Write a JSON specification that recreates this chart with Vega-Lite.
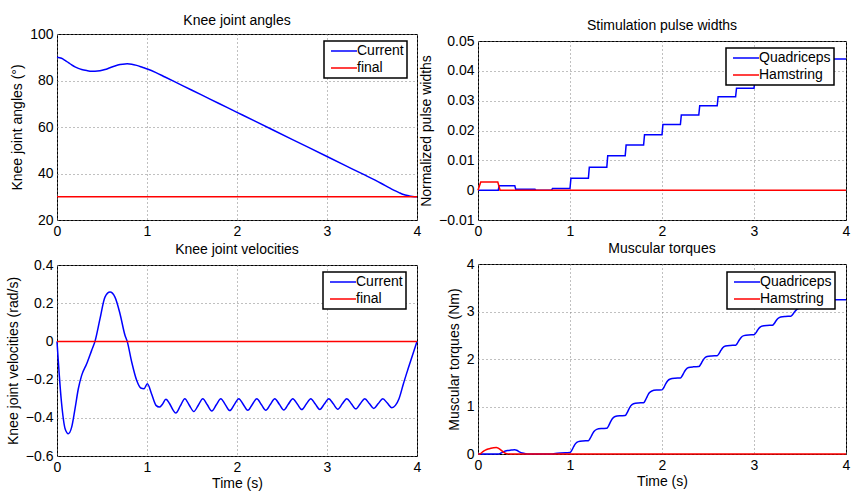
{
  "$schema": "https://vega.github.io/schema/vega-lite/v6.json",
  "background": "white",
  "padding": {"left": 5, "top": 13, "right": 0, "bottom": 0},
  "datasets": {
    "angles": [
      {"t": 0, "v": 90.0, "s": "Current"}, {"t": 0.05, "v": 89.55, "s": "Current"}, {"t": 0.09, "v": 88.65, "s": "Current"},
      {"t": 0.126, "v": 87.7, "s": "Current"}, {"t": 0.163, "v": 86.7, "s": "Current"}, {"t": 0.2, "v": 85.85, "s": "Current"},
      {"t": 0.237, "v": 85.2, "s": "Current"}, {"t": 0.274, "v": 84.75, "s": "Current"}, {"t": 0.33, "v": 84.3, "s": "Current"},
      {"t": 0.385, "v": 84.0, "s": "Current"}, {"t": 0.422, "v": 83.97, "s": "Current"}, {"t": 0.478, "v": 84.15, "s": "Current"},
      {"t": 0.533, "v": 84.7, "s": "Current"}, {"t": 0.589, "v": 85.5, "s": "Current"}, {"t": 0.644, "v": 86.25, "s": "Current"},
      {"t": 0.7, "v": 86.85, "s": "Current"}, {"t": 0.756, "v": 87.15, "s": "Current"}, {"t": 0.78, "v": 87.17, "s": "Current"},
      {"t": 0.83, "v": 87.0, "s": "Current"}, {"t": 0.885, "v": 86.5, "s": "Current"}, {"t": 0.93, "v": 85.95, "s": "Current"},
      {"t": 0.967, "v": 85.45, "s": "Current"}, {"t": 1.004, "v": 84.95, "s": "Current"}, {"t": 1.1, "v": 83.4, "s": "Current"},
      {"t": 1.2, "v": 81.5, "s": "Current"}, {"t": 1.3, "v": 79.6, "s": "Current"}, {"t": 1.4, "v": 77.7, "s": "Current"},
      {"t": 1.5, "v": 75.8, "s": "Current"}, {"t": 1.6, "v": 73.9, "s": "Current"}, {"t": 1.7, "v": 72.0, "s": "Current"},
      {"t": 1.8, "v": 70.1, "s": "Current"}, {"t": 1.9, "v": 68.2, "s": "Current"}, {"t": 2.0, "v": 66.3, "s": "Current"},
      {"t": 2.2, "v": 62.5, "s": "Current"}, {"t": 2.4, "v": 58.7, "s": "Current"}, {"t": 2.6, "v": 54.9, "s": "Current"},
      {"t": 2.8, "v": 51.1, "s": "Current"}, {"t": 3.0, "v": 47.3, "s": "Current"}, {"t": 3.2, "v": 43.5, "s": "Current"},
      {"t": 3.4, "v": 39.7, "s": "Current"}, {"t": 3.6, "v": 35.8, "s": "Current"}, {"t": 3.7, "v": 33.7, "s": "Current"},
      {"t": 3.76, "v": 32.5, "s": "Current"}, {"t": 3.8, "v": 31.8, "s": "Current"}, {"t": 3.85, "v": 31.0, "s": "Current"},
      {"t": 3.9, "v": 30.5, "s": "Current"}, {"t": 3.95, "v": 30.12, "s": "Current"}, {"t": 4.0, "v": 30.0, "s": "Current"},
      {"t": 0, "v": 30, "s": "final"}, {"t": 4, "v": 30, "s": "final"}
    ],
    "velocities": [
      {"t": 0, "v": 0, "s": "Current"}, {"t": 0.05, "v": -0.32, "s": "Current"}, {"t": 0.09, "v": -0.457, "s": "Current"},
      {"t": 0.126, "v": -0.483, "s": "Current"}, {"t": 0.163, "v": -0.449, "s": "Current"}, {"t": 0.2, "v": -0.353, "s": "Current"},
      {"t": 0.237, "v": -0.248, "s": "Current"}, {"t": 0.274, "v": -0.178, "s": "Current"}, {"t": 0.33, "v": -0.117, "s": "Current"},
      {"t": 0.385, "v": -0.047, "s": "Current"}, {"t": 0.422, "v": 0, "s": "Current"}, {"t": 0.478, "v": 0.119, "s": "Current"},
      {"t": 0.533, "v": 0.232, "s": "Current"}, {"t": 0.589, "v": 0.258, "s": "Current"}, {"t": 0.644, "v": 0.232, "s": "Current"},
      {"t": 0.7, "v": 0.145, "s": "Current"}, {"t": 0.756, "v": 0.031, "s": "Current"}, {"t": 0.78, "v": 0, "s": "Current"},
      {"t": 0.83, "v": -0.108, "s": "Current"}, {"t": 0.885, "v": -0.204, "s": "Current"}, {"t": 0.93, "v": -0.244, "s": "Current"},
      {"t": 0.967, "v": -0.248, "s": "Current"}, {"t": 1.004, "v": -0.222, "s": "Current"}, {"t": 1.05, "v": -0.274, "s": "Current"},
      {"t": 1.1, "v": -0.335, "s": "Current"}, {"t": 1.137, "v": -0.344, "s": "Current"}, {"t": 1.17, "v": -0.33, "s": "Current"},
      {"t": 1.21, "v": -0.303, "s": "Current"}, {"t": 1.25, "v": -0.325, "s": "Current"}, {"t": 1.29, "v": -0.36, "s": "Current"},
      {"t": 1.32, "v": -0.375, "s": "Current"}, {"t": 1.37, "v": -0.338, "s": "Current"}, {"t": 1.42, "v": -0.300, "s": "Current"},
      {"t": 1.47, "v": -0.334, "s": "Current"}, {"t": 1.52, "v": -0.367, "s": "Current"}, {"t": 1.57, "v": -0.334, "s": "Current"},
      {"t": 1.62, "v": -0.300, "s": "Current"}, {"t": 1.67, "v": -0.332, "s": "Current"}, {"t": 1.72, "v": -0.364, "s": "Current"},
      {"t": 1.77, "v": -0.332, "s": "Current"}, {"t": 1.82, "v": -0.300, "s": "Current"}, {"t": 1.87, "v": -0.331, "s": "Current"},
      {"t": 1.92, "v": -0.362, "s": "Current"}, {"t": 1.97, "v": -0.331, "s": "Current"}, {"t": 2.02, "v": -0.300, "s": "Current"},
      {"t": 2.07, "v": -0.330, "s": "Current"}, {"t": 2.12, "v": -0.361, "s": "Current"}, {"t": 2.17, "v": -0.330, "s": "Current"},
      {"t": 2.22, "v": -0.300, "s": "Current"}, {"t": 2.27, "v": -0.330, "s": "Current"}, {"t": 2.32, "v": -0.360, "s": "Current"},
      {"t": 2.37, "v": -0.330, "s": "Current"}, {"t": 2.42, "v": -0.300, "s": "Current"}, {"t": 2.47, "v": -0.329, "s": "Current"},
      {"t": 2.52, "v": -0.359, "s": "Current"}, {"t": 2.57, "v": -0.329, "s": "Current"}, {"t": 2.62, "v": -0.300, "s": "Current"},
      {"t": 2.67, "v": -0.328, "s": "Current"}, {"t": 2.72, "v": -0.357, "s": "Current"}, {"t": 2.77, "v": -0.328, "s": "Current"},
      {"t": 2.82, "v": -0.300, "s": "Current"}, {"t": 2.87, "v": -0.328, "s": "Current"}, {"t": 2.92, "v": -0.356, "s": "Current"},
      {"t": 2.97, "v": -0.328, "s": "Current"}, {"t": 3.02, "v": -0.300, "s": "Current"}, {"t": 3.07, "v": -0.327, "s": "Current"},
      {"t": 3.12, "v": -0.355, "s": "Current"}, {"t": 3.17, "v": -0.327, "s": "Current"}, {"t": 3.22, "v": -0.300, "s": "Current"},
      {"t": 3.27, "v": -0.326, "s": "Current"}, {"t": 3.32, "v": -0.353, "s": "Current"}, {"t": 3.37, "v": -0.326, "s": "Current"},
      {"t": 3.42, "v": -0.300, "s": "Current"}, {"t": 3.47, "v": -0.325, "s": "Current"}, {"t": 3.52, "v": -0.351, "s": "Current"},
      {"t": 3.57, "v": -0.325, "s": "Current"}, {"t": 3.62, "v": -0.300, "s": "Current"}, {"t": 3.67, "v": -0.323, "s": "Current"},
      {"t": 3.72, "v": -0.347, "s": "Current"}, {"t": 3.76, "v": -0.335, "s": "Current"}, {"t": 3.8, "v": -0.30, "s": "Current"},
      {"t": 3.85, "v": -0.22, "s": "Current"}, {"t": 3.9, "v": -0.145, "s": "Current"}, {"t": 3.95, "v": -0.072, "s": "Current"},
      {"t": 4.0, "v": 0, "s": "Current"},
      {"t": 0, "v": 0, "s": "final"}, {"t": 4, "v": 0, "s": "final"}
    ],
    "pulses": [
      {"t": 0, "v": 0, "s": "Quadriceps"}, {"t": 0.22, "v": 0, "s": "Quadriceps"}, {"t": 0.23, "v": 0.00145, "s": "Quadriceps"},
      {"t": 0.4, "v": 0.00145, "s": "Quadriceps"}, {"t": 0.41, "v": 0.0003, "s": "Quadriceps"}, {"t": 0.62, "v": 0.0003, "s": "Quadriceps"},
      {"t": 0.63, "v": 0.0, "s": "Quadriceps"}, {"t": 0.8, "v": 0.0, "s": "Quadriceps"}, {"t": 0.81, "v": 0.0006, "s": "Quadriceps"},
      {"t": 1.0, "v": 0.0006, "s": "Quadriceps"}, {"t": 1.01, "v": 0.0040, "s": "Quadriceps"}, {"t": 1.2, "v": 0.0040, "s": "Quadriceps"},
      {"t": 1.21, "v": 0.0077, "s": "Quadriceps"}, {"t": 1.4, "v": 0.0077, "s": "Quadriceps"}, {"t": 1.41, "v": 0.0115, "s": "Quadriceps"},
      {"t": 1.6, "v": 0.0115, "s": "Quadriceps"}, {"t": 1.61, "v": 0.0151, "s": "Quadriceps"}, {"t": 1.8, "v": 0.0151, "s": "Quadriceps"},
      {"t": 1.81, "v": 0.0186, "s": "Quadriceps"}, {"t": 2.0, "v": 0.0186, "s": "Quadriceps"}, {"t": 2.01, "v": 0.0220, "s": "Quadriceps"},
      {"t": 2.2, "v": 0.0220, "s": "Quadriceps"}, {"t": 2.21, "v": 0.0252, "s": "Quadriceps"}, {"t": 2.4, "v": 0.0252, "s": "Quadriceps"},
      {"t": 2.41, "v": 0.0283, "s": "Quadriceps"}, {"t": 2.6, "v": 0.0283, "s": "Quadriceps"}, {"t": 2.61, "v": 0.0313, "s": "Quadriceps"},
      {"t": 2.8, "v": 0.0313, "s": "Quadriceps"}, {"t": 2.81, "v": 0.0342, "s": "Quadriceps"}, {"t": 3.0, "v": 0.0342, "s": "Quadriceps"},
      {"t": 3.01, "v": 0.0370, "s": "Quadriceps"}, {"t": 3.2, "v": 0.0370, "s": "Quadriceps"}, {"t": 3.21, "v": 0.0396, "s": "Quadriceps"},
      {"t": 3.4, "v": 0.0396, "s": "Quadriceps"}, {"t": 3.41, "v": 0.0420, "s": "Quadriceps"}, {"t": 3.6, "v": 0.0420, "s": "Quadriceps"},
      {"t": 3.61, "v": 0.0440, "s": "Quadriceps"}, {"t": 4.0, "v": 0.0440, "s": "Quadriceps"},
      {"t": 0, "v": 0, "s": "Hamstring"}, {"t": 0.03, "v": 0.0027, "s": "Hamstring"}, {"t": 0.215, "v": 0.0027, "s": "Hamstring"},
      {"t": 0.24, "v": 0, "s": "Hamstring"}, {"t": 4.0, "v": 0, "s": "Hamstring"}
    ],
    "torques": [
      {"t": 0, "v": 0, "s": "Quadriceps"}, {"t": 0.22, "v": 0, "s": "Quadriceps"}, {"t": 0.25, "v": 0.02, "s": "Quadriceps"},
      {"t": 0.28, "v": 0.05, "s": "Quadriceps"}, {"t": 0.32, "v": 0.072, "s": "Quadriceps"}, {"t": 0.36, "v": 0.082, "s": "Quadriceps"},
      {"t": 0.4, "v": 0.09, "s": "Quadriceps"}, {"t": 0.42, "v": 0.08, "s": "Quadriceps"}, {"t": 0.45, "v": 0.045, "s": "Quadriceps"},
      {"t": 0.48, "v": 0.02, "s": "Quadriceps"}, {"t": 0.52, "v": 0.005, "s": "Quadriceps"}, {"t": 0.56, "v": 0, "s": "Quadriceps"},
      {"t": 0.8, "v": 0, "s": "Quadriceps"}, {"t": 0.84, "v": 0.012, "s": "Quadriceps"}, {"t": 0.9, "v": 0.022, "s": "Quadriceps"},
      {"t": 0.95, "v": 0.027, "s": "Quadriceps"},
      {"t": 1.0, "v": 0.03, "s": "Quadriceps"}, {"t": 1.02, "v": 0.08, "s": "Quadriceps"}, {"t": 1.04, "v": 0.155, "s": "Quadriceps"}, {"t": 1.06, "v": 0.218, "s": "Quadriceps"}, {"t": 1.09, "v": 0.26, "s": "Quadriceps"}, {"t": 1.14, "v": 0.275, "s": "Quadriceps"},
      {"t": 1.2, "v": 0.28, "s": "Quadriceps"}, {"t": 1.22, "v": 0.332, "s": "Quadriceps"}, {"t": 1.24, "v": 0.41, "s": "Quadriceps"}, {"t": 1.26, "v": 0.475, "s": "Quadriceps"}, {"t": 1.29, "v": 0.519, "s": "Quadriceps"}, {"t": 1.34, "v": 0.535, "s": "Quadriceps"},
      {"t": 1.4, "v": 0.54, "s": "Quadriceps"}, {"t": 1.42, "v": 0.594, "s": "Quadriceps"}, {"t": 1.44, "v": 0.675, "s": "Quadriceps"}, {"t": 1.46, "v": 0.743, "s": "Quadriceps"}, {"t": 1.49, "v": 0.788, "s": "Quadriceps"}, {"t": 1.54, "v": 0.805, "s": "Quadriceps"},
      {"t": 1.6, "v": 0.81, "s": "Quadriceps"}, {"t": 1.62, "v": 0.864, "s": "Quadriceps"}, {"t": 1.64, "v": 0.945, "s": "Quadriceps"}, {"t": 1.66, "v": 1.013, "s": "Quadriceps"}, {"t": 1.69, "v": 1.058, "s": "Quadriceps"}, {"t": 1.74, "v": 1.075, "s": "Quadriceps"},
      {"t": 1.8, "v": 1.08, "s": "Quadriceps"}, {"t": 1.82, "v": 1.134, "s": "Quadriceps"}, {"t": 1.84, "v": 1.215, "s": "Quadriceps"}, {"t": 1.86, "v": 1.283, "s": "Quadriceps"}, {"t": 1.89, "v": 1.328, "s": "Quadriceps"}, {"t": 1.94, "v": 1.345, "s": "Quadriceps"},
      {"t": 2.0, "v": 1.35, "s": "Quadriceps"}, {"t": 2.02, "v": 1.40, "s": "Quadriceps"}, {"t": 2.04, "v": 1.475, "s": "Quadriceps"}, {"t": 2.06, "v": 1.538, "s": "Quadriceps"}, {"t": 2.09, "v": 1.58, "s": "Quadriceps"}, {"t": 2.14, "v": 1.595, "s": "Quadriceps"},
      {"t": 2.2, "v": 1.60, "s": "Quadriceps"}, {"t": 2.22, "v": 1.648, "s": "Quadriceps"}, {"t": 2.24, "v": 1.72, "s": "Quadriceps"}, {"t": 2.26, "v": 1.78, "s": "Quadriceps"}, {"t": 2.29, "v": 1.821, "s": "Quadriceps"}, {"t": 2.34, "v": 1.835, "s": "Quadriceps"},
      {"t": 2.4, "v": 1.84, "s": "Quadriceps"}, {"t": 2.42, "v": 1.886, "s": "Quadriceps"}, {"t": 2.44, "v": 1.955, "s": "Quadriceps"}, {"t": 2.46, "v": 2.013, "s": "Quadriceps"}, {"t": 2.49, "v": 2.052, "s": "Quadriceps"}, {"t": 2.54, "v": 2.065, "s": "Quadriceps"},
      {"t": 2.6, "v": 2.07, "s": "Quadriceps"}, {"t": 2.62, "v": 2.114, "s": "Quadriceps"}, {"t": 2.64, "v": 2.18, "s": "Quadriceps"}, {"t": 2.66, "v": 2.235, "s": "Quadriceps"}, {"t": 2.69, "v": 2.272, "s": "Quadriceps"}, {"t": 2.74, "v": 2.286, "s": "Quadriceps"},
      {"t": 2.8, "v": 2.29, "s": "Quadriceps"}, {"t": 2.82, "v": 2.334, "s": "Quadriceps"}, {"t": 2.84, "v": 2.40, "s": "Quadriceps"}, {"t": 2.86, "v": 2.455, "s": "Quadriceps"}, {"t": 2.89, "v": 2.492, "s": "Quadriceps"}, {"t": 2.94, "v": 2.506, "s": "Quadriceps"},
      {"t": 3.0, "v": 2.51, "s": "Quadriceps"}, {"t": 3.02, "v": 2.55, "s": "Quadriceps"}, {"t": 3.04, "v": 2.61, "s": "Quadriceps"}, {"t": 3.06, "v": 2.66, "s": "Quadriceps"}, {"t": 3.09, "v": 2.694, "s": "Quadriceps"}, {"t": 3.14, "v": 2.706, "s": "Quadriceps"},
      {"t": 3.2, "v": 2.71, "s": "Quadriceps"}, {"t": 3.22, "v": 2.748, "s": "Quadriceps"}, {"t": 3.24, "v": 2.805, "s": "Quadriceps"}, {"t": 3.26, "v": 2.853, "s": "Quadriceps"}, {"t": 3.29, "v": 2.885, "s": "Quadriceps"}, {"t": 3.34, "v": 2.896, "s": "Quadriceps"},
      {"t": 3.4, "v": 2.90, "s": "Quadriceps"}, {"t": 3.42, "v": 2.936, "s": "Quadriceps"}, {"t": 3.44, "v": 2.99, "s": "Quadriceps"}, {"t": 3.46, "v": 3.035, "s": "Quadriceps"}, {"t": 3.49, "v": 3.066, "s": "Quadriceps"}, {"t": 3.54, "v": 3.076, "s": "Quadriceps"},
      {"t": 3.6, "v": 3.08, "s": "Quadriceps"}, {"t": 3.62, "v": 3.114, "s": "Quadriceps"}, {"t": 3.64, "v": 3.165, "s": "Quadriceps"}, {"t": 3.66, "v": 3.208, "s": "Quadriceps"}, {"t": 3.69, "v": 3.236, "s": "Quadriceps"}, {"t": 3.74, "v": 3.247, "s": "Quadriceps"},
      {"t": 3.8, "v": 3.25, "s": "Quadriceps"}, {"t": 4.0, "v": 3.25, "s": "Quadriceps"},
      {"t": 0, "v": 0, "s": "Hamstring"}, {"t": 0.02, "v": 0, "s": "Hamstring"}, {"t": 0.05, "v": 0.045, "s": "Hamstring"},
      {"t": 0.08, "v": 0.08, "s": "Hamstring"}, {"t": 0.11, "v": 0.105, "s": "Hamstring"}, {"t": 0.14, "v": 0.122, "s": "Hamstring"},
      {"t": 0.17, "v": 0.133, "s": "Hamstring"}, {"t": 0.2, "v": 0.138, "s": "Hamstring"}, {"t": 0.22, "v": 0.125, "s": "Hamstring"},
      {"t": 0.25, "v": 0.08, "s": "Hamstring"}, {"t": 0.28, "v": 0.035, "s": "Hamstring"}, {"t": 0.31, "v": 0.008, "s": "Hamstring"},
      {"t": 0.35, "v": 0, "s": "Hamstring"}, {"t": 4.0, "v": 0, "s": "Hamstring"}
    ]
  },
  "hconcat": [
    {
      "vconcat": [
        {
          "width": 360, "height": 186,
          "title": {"text": "Knee joint angles", "offset": -1},
          "data": {"name": "angles"},
          "mark": {"type": "line", "interpolate": "monotone", "strokeWidth": 1.5},
          "encoding": {
            "x": {"field": "t", "type": "quantitative", "scale": {"domain": [0, 4], "nice": false}, "axis": {"values": [0, 1, 2, 3, 4], "format": "d", "title": null}},
            "y": {"field": "v", "type": "quantitative", "scale": {"domain": [20, 100], "nice": false, "zero": false}, "axis": {"values": [20, 40, 60, 80, 100], "format": "d", "title": "Knee joint angles (°)"}},
            "color": {"field": "s", "type": "nominal", "scale": {"domain": ["Current", "final"], "range": ["#0000ff", "#ff0000"]}, "legend": {"legendX": 267, "legendY": 7}}
          }
        },
        {
          "width": 360, "height": 191,
          "title": "Knee joint velocities",
          "data": {"name": "velocities"},
          "mark": {"type": "line", "interpolate": "monotone", "strokeWidth": 1.5},
          "encoding": {
            "x": {"field": "t", "type": "quantitative", "scale": {"domain": [0, 4], "nice": false}, "axis": {"values": [0, 1, 2, 3, 4], "format": "d", "title": "Time (s)"}},
            "y": {"field": "v", "type": "quantitative", "scale": {"domain": [-0.6, 0.4], "nice": false, "zero": false}, "axis": {"values": [-0.6, -0.4, -0.2, 0, 0.2, 0.4], "format": ".1~f", "title": "Knee joint velocities (rad/s)"}},
            "color": {"field": "s", "type": "nominal", "scale": {"domain": ["Current", "final"], "range": ["#0000ff", "#ff0000"]}, "legend": {"legendX": 266, "legendY": 7}}
          }
        }
      ],
      "spacing": 3,
      "bounds": "full",
      "resolve": {"scale": {"color": "independent", "x": "independent", "y": "independent"}, "legend": {"color": "independent"}}
    },
    {
      "vconcat": [
        {
          "vconcat": [
            {
              "width": 368, "height": 7,
              "data": {"values": []},
              "mark": "point",
              "encoding": {},
              "view": {"stroke": null}
            },
            {
              "width": 368, "height": 179,
              "title": "Stimulation pulse widths",
              "data": {"name": "pulses"},
              "mark": {"type": "line", "strokeWidth": 1.5},
              "encoding": {
                "x": {"field": "t", "type": "quantitative", "scale": {"domain": [0, 4], "nice": false}, "axis": {"values": [0, 1, 2, 3, 4], "format": "d", "title": null}},
                "y": {"field": "v", "type": "quantitative", "scale": {"domain": [-0.01, 0.05], "nice": false, "zero": false}, "axis": {"values": [-0.01, 0, 0.01, 0.02, 0.03, 0.04, 0.05], "format": ".2~f", "title": "Normalized pulse widths"}},
                "color": {"field": "s", "type": "nominal", "scale": {"domain": ["Quadriceps", "Hamstring"], "range": ["#0000ff", "#ff0000"]}, "legend": {"legendX": 248, "legendY": 7}}
              }
            }
          ],
          "spacing": 0,
          "bounds": "flush",
          "resolve": {"scale": {"color": "independent", "x": "independent", "y": "independent"}, "legend": {"color": "independent"}}
        },
        {
          "width": 368, "height": 190,
          "title": "Muscular torques",
          "data": {"name": "torques"},
          "mark": {"type": "line", "interpolate": "monotone", "strokeWidth": 1.5},
          "encoding": {
            "x": {"field": "t", "type": "quantitative", "scale": {"domain": [0, 4], "nice": false}, "axis": {"values": [0, 1, 2, 3, 4], "format": "d", "title": "Time (s)"}},
            "y": {"field": "v", "type": "quantitative", "scale": {"domain": [0, 4], "nice": false}, "axis": {"values": [0, 1, 2, 3, 4], "format": "d", "title": "Muscular torques (Nm)"}},
            "color": {"field": "s", "type": "nominal", "scale": {"domain": ["Quadriceps", "Hamstring"], "range": ["#0000ff", "#ff0000"]}, "legend": {"legendX": 249, "legendY": 8}}
          }
        }
      ],
      "spacing": 2,
      "bounds": "full",
      "resolve": {"scale": {"color": "independent", "x": "independent", "y": "independent"}, "legend": {"color": "independent"}}
    }
  ],
  "spacing": -3,
  "bounds": "full",
  "resolve": {"scale": {"color": "independent", "x": "independent", "y": "independent"}, "legend": {"color": "independent"}},
  "config": {
    "font": "Liberation Sans",
    "view": {"stroke": "black", "strokeWidth": 1},
    "axis": {
      "domain": false, "ticks": false, "tickSize": 0, "labelPadding": 4,
      "labelFont": "Liberation Sans", "labelFontSize": 14, "labelColor": "black",
      "labelOverlap": false, "labelFlush": false, "labelBound": false,
      "titleFont": "Liberation Sans", "titleFontSize": 14, "titleFontWeight": "normal", "titleColor": "black", "titlePadding": 5,
      "grid": true, "gridColor": "#808080", "gridDash": [1, 3], "gridWidth": 1, "gridOpacity": 1
    },
    "axisX": {"titlePadding": 2},
    "title": {"font": "Liberation Sans", "fontSize": 14, "fontWeight": "normal", "color": "black", "offset": 1},
    "legend": {
      "orient": "none", "title": null,
      "strokeColor": "black", "strokeWidth": 1.5, "fillColor": "white", "padding": 3,
      "labelFont": "Liberation Sans", "labelFontSize": 14, "labelColor": "black", "labelLimit": 200,
      "symbolType": "M-2.6,0H2.6", "symbolSize": 100, "symbolStrokeWidth": 1.5,
      "symbolOffset": 10, "labelOffset": 6, "rowPadding": 3
    }
  }
}
